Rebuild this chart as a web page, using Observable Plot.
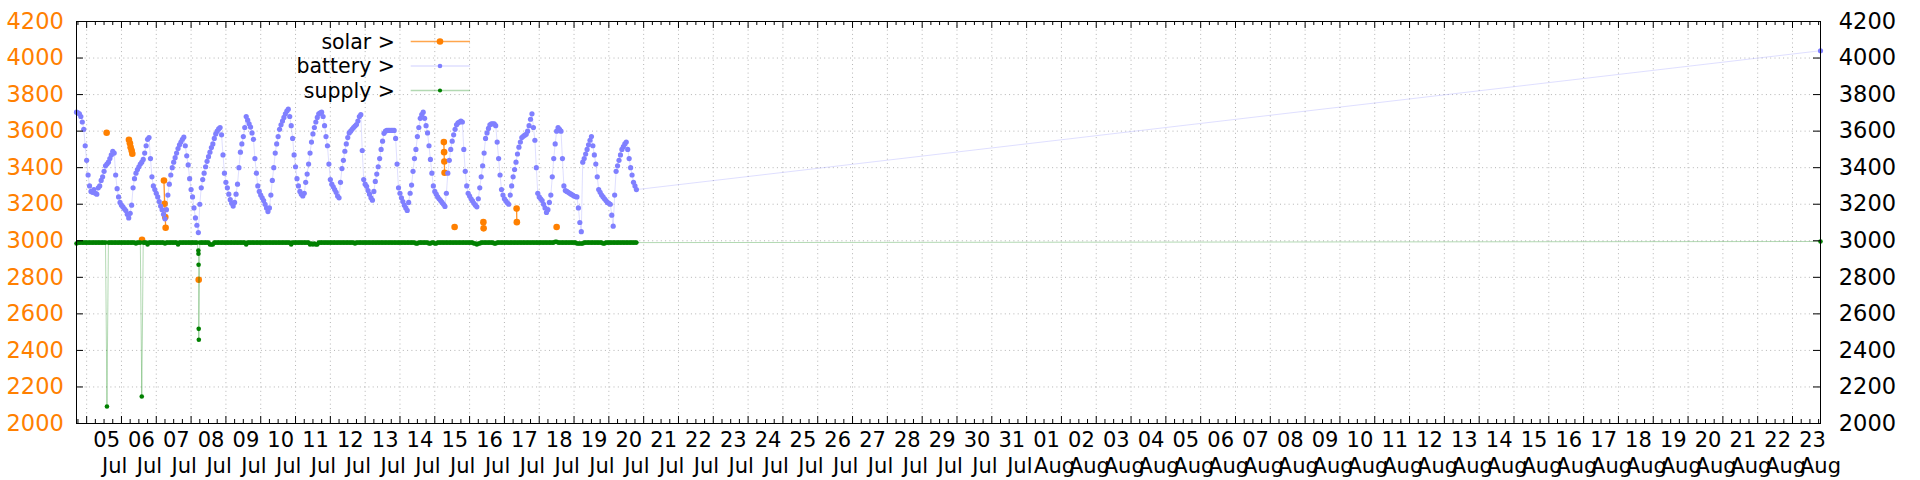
<!DOCTYPE html>
<html><head><meta charset="utf-8">
<script src="https://cdn.jsdelivr.net/npm/d3@7"></script>
<script src="https://cdn.jsdelivr.net/npm/@observablehq/plot@0.6"></script>
<style>body{margin:0;background:#fff;} #chart svg{display:block}</style>
</head><body><div id="chart"></div>
<script>
// ---- data (hourly log from Jul 4 17:00) ----
const startTime = "07-04 17:00";
const batteryHourly = [
/* Jul 4 17-23 */ 3704,3700,3695,3680,3650,3610,3520,
/* Jul 5 */ 3440,3360,3300,3270,3265,3280,3260,3255,3290,3300,3330,3350,3380,3410,3420,3430,3450,3470,3490,3480,3360,3285,3240,3210,
/* Jul 6 */ 3195,3185,3175,3165,3145,3125,3150,3195,3290,3340,3370,3390,3405,3420,3430,3445,3480,3520,3555,3565,3450,3350,3300,3280,
/* Jul 7 */ 3260,3240,3215,3190,3170,3145,3120,3170,3250,3310,3360,3400,3430,3455,3480,3505,3525,3540,3555,3567,3520,3465,3415,3340,
/* Jul 8 */ 3280,3240,3180,3125,3085,3045,3200,3290,3335,3370,3405,3435,3460,3485,3510,3530,3560,3585,3600,3612,3620,3580,3470,3370,
/* Jul 9 */ 3320,3290,3255,3225,3205,3190,3210,3255,3310,3400,3485,3530,3570,3620,3680,3660,3640,3622,3590,3555,3450,3370,3300,3270,
/* Jul 10 */ 3250,3235,3220,3200,3180,3160,3180,3250,3330,3400,3480,3530,3570,3610,3635,3655,3675,3695,3710,3720,3680,3630,3560,3470,
/* Jul 11 */ 3405,3340,3300,3270,3255,3245,3260,3320,3365,3420,3480,3540,3585,3620,3650,3675,3695,3700,3704,3680,3630,3570,3520,3420,
/* Jul 12 */ 3335,3310,3295,3280,3265,3245,3235,3320,3395,3440,3490,3530,3565,3590,3600,3610,3620,3628,3636,3655,3680,3690,3494,3335,
/* Jul 13 */ 3310,3298,3275,3255,3235,3222,3270,3325,3365,3405,3450,3500,3545,3588,3600,3604,3604,3604,3604,3604,3604,3560,3420,3290,
/* Jul 14 */ 3260,3235,3215,3195,3180,3166,3210,3260,3305,3380,3450,3500,3570,3620,3670,3690,3704,3670,3630,3590,3520,3445,3370,3300,
/* Jul 15 */ 3270,3255,3240,3230,3220,3210,3200,3188,3260,3370,3440,3500,3545,3580,3610,3635,3645,3650,3655,3650,3500,3380,3300,3260,
/* Jul 16 */ 3245,3230,3218,3205,3195,3186,3230,3290,3350,3410,3480,3560,3590,3615,3635,3640,3640,3640,3630,3540,3450,3360,3280,3250,
/* Jul 17 */ 3230,3218,3208,3200,3250,3300,3350,3390,3430,3475,3512,3540,3565,3572,3578,3583,3600,3630,3665,3695,3620,3550,3400,3260,
/* Jul 18 */ 3240,3230,3220,3200,3180,3155,3170,3210,3250,3350,3450,3530,3600,3620,3610,3600,3450,3300,3275,3270,3265,3260,3255,3250,
/* Jul 19 */ 3245,3242,3240,3180,3100,3050,3430,3450,3475,3500,3525,3550,3570,3520,3470,3420,3350,3280,3265,3250,3240,3230,3220,3210,
/* Jul 20 0-19 */ 3205,3200,3140,3080,3250,3380,3410,3440,3470,3500,3515,3530,3540,3500,3450,3400,3360,3320,3300,3280
];
const supplyHourly = [
/* Jul 4 */ 2985,2990,2990,2990,2990,2990,2990,
/* Jul 5 */ 2990,2990,2990,2990,2990,2990,2990,2990,2990,2990,2990,2990,2990,2990,2093,2990,2990,2990,2990,2990,2990,2990,2990,2990,
/* Jul 6 */ 2990,2990,2990,2990,2990,2990,2990,2990,2990,2990,2985,2990,2990,2990,2148,2990,2990,2990,2980,2990,2990,2990,2990,2990,
/* Jul 7 */ 2990,2990,2990,2990,2990,2990,2985,2990,2990,2990,2990,2990,2990,2990,2990,2980,2990,2990,2990,2990,2990,2990,2990,2990,
/* Jul 8 */ 2990,2990,2990,2990,2990,2947,2990,2990,2990,2990,2990,2990,2990,2980,2980,2980,2990,2990,2990,2990,2990,2990,2990,2990,
/* Jul 9 */ 2990,2990,2990,2990,2990,2990,2990,2990,2990,2990,2990,2990,2990,2990,2980,2990,2990,2990,2990,2990,2990,2990,2990,2990,
/* Jul 10 */ 2990,2990,2990,2990,2990,2990,2990,2990,2990,2990,2990,2990,2990,2990,2990,2990,2990,2990,2990,2990,2990,2980,2990,2990,
/* Jul 11 */ 2990,2990,2990,2990,2990,2990,2990,2990,2990,2990,2980,2985,2980,2985,2980,2980,2990,2990,2990,2990,2990,2990,2990,2990,
/* Jul 12 */ 2990,2990,2990,2990,2990,2990,2990,2990,2990,2990,2990,2990,2990,2990,2990,2990,2990,2985,2990,2990,2990,2990,2990,2990,
/* Jul 13 */ 2990,2990,2990,2990,2990,2990,2990,2990,2990,2990,2990,2990,2990,2990,2990,2990,2990,2990,2990,2990,2990,2990,2990,2990,
/* Jul 14 */ 2990,2990,2990,2990,2990,2990,2990,2990,2990,2990,2990,2985,2985,2990,2990,2990,2990,2990,2990,2990,2985,2985,2990,2990,
/* Jul 15 */ 2985,2985,2990,2990,2990,2990,2990,2990,2990,2990,2990,2990,2990,2990,2990,2990,2990,2990,2990,2990,2990,2990,2990,2990,
/* Jul 16 */ 2990,2990,2990,2985,2985,2980,2985,2985,2990,2990,2990,2990,2990,2990,2990,2990,2990,2985,2985,2990,2990,2990,2990,2990,
/* Jul 17 */ 2990,2990,2990,2990,2990,2990,2990,2990,2990,2990,2990,2990,2990,2990,2990,2990,2990,2990,2990,2990,2990,2990,2990,2990,
/* Jul 18 */ 2990,2990,2990,2990,2990,2990,2990,2990,2990,2990,2990,2995,2995,2990,2990,2990,2990,2990,2990,2990,2990,2990,2990,2990,
/* Jul 19 */ 2990,2990,2985,2985,2985,2985,2985,2990,2990,2990,2990,2990,2990,2990,2990,2990,2990,2990,2990,2990,2985,2985,2990,2990,
/* Jul 20 */ 2990,2990,2990,2990,2990,2990,2990,2990,2990,2990,2990,2990,2990,2990,2990,2990,2990,2990,2990,2990
];
const supplyExtraTimes  = ["07-08 05:05","07-08 05:10","07-08 05:15","07-08 05:20"];
const supplyExtraValues = [2929, 2869, 2518, 2458];
const lastTime = "08-23 19:18";
const lastBattery = 4040, lastSupply = 2996;

const solarTimes = [
"07-05 13:47",
"07-06 05:09","07-06 05:50","07-06 06:19","07-06 07:00","07-06 07:29",
"07-06 14:10",
"07-07 05:17","07-07 05:46","07-07 06:13","07-07 06:27",
"07-08 05:15",
"07-15 06:15","07-15 06:25","07-15 06:35","07-15 06:45",
"07-15 13:40",
"07-16 09:30","07-16 09:40",
"07-17 08:24","07-17 08:34",
"07-18 12:00"
];
const solarValues = [3591, 3553,3534,3512,3494,3476, 3006, 3330,3203,3130,3071, 2787, 3540,3485,3434,3372, 3075, 3102,3068, 3176,3102, 3075];
const solarRun    = [1, 2,2,2,2,2, 3, 4,4,4,4, 5, 6,6,6,6, 7, 8,8, 9,9, 10];
const yTicks = [2000,2200,2400,2600,2800,3000,3200,3400,3600,3800,4000,4200];
const seriesNames = ["solar >","battery >","supply >"];
const seriesColors = ["#ff8000","#8080ff","#008000"];

// ---- build ----
const parse = d3.utcParse("%Y-%m-%d %H:%M");
const T = s => parse("2023-" + s);
const t0 = T(startTime);
const batteryRows = batteryHourly.map((v, i) => ({t: d3.utcHour.offset(t0, i), v}));
batteryRows.push({t: T(lastTime), v: lastBattery});
const supplyRows = supplyHourly.map((v, i) => ({t: d3.utcHour.offset(t0, i), v}))
  .concat(supplyExtraTimes.map((s, i) => ({t: T(s), v: supplyExtraValues[i]})))
  .sort((a, b) => a.t - b.t);
supplyRows.push({t: T(lastTime), v: lastSupply});
const solarRows = solarTimes.map((t, i) => ({t: T(t), v: solarValues[i], g: solarRun[i]}));
const xDomain = [t0, T(lastTime)];

const W = 1920, H = 480, mL = 76, mR = 100, mT = 21, mB = 57;
const plotW = W - mL - mR, plotH = H - mT - mB;
const days = d3.utcDay.range(d3.utcDay.ceil(xDomain[0]), xDomain[1]);
const quarters = d3.utcHour.every(6).range(xDomain[0], xDomain[1]).filter(d => d.getUTCHours() !== 0);
const fmtDay = d3.utcFormat("%d"), fmtMon = d3.utcFormat("%b");
const gridStyle = {stroke: "#b4b4b4", strokeDasharray: "1,3.3", strokeWidth: 1};

const chart = Plot.plot({
  width: W, height: H,
  marginLeft: mL, marginRight: mR, marginTop: mT, marginBottom: mB,
  x: {type: "utc", domain: xDomain, axis: null},
  y: {domain: [yTicks[0], yTicks[yTicks.length - 1]], axis: null},
  style: {fontFamily: "DejaVu Sans", background: "#fff"},
  marks: [
    Plot.ruleX(days, {x: d => d, ...gridStyle}),
    Plot.ruleY(yTicks.slice(1, -1), {y: d => d, ...gridStyle}),
    // solar
    Plot.line(solarRows, {x: "t", y: "v", z: "g", stroke: seriesColors[0], strokeOpacity: 0.85, strokeWidth: 1.3}),
    Plot.dot(solarRows, {x: "t", y: "v", r: 3.3, fill: seriesColors[0]}),
    // battery
    Plot.line(batteryRows, {x: "t", y: "v", stroke: seriesColors[1], strokeOpacity: 0.25, strokeWidth: 1}),
    Plot.dot(batteryRows, {x: "t", y: "v", r: 2.6, fill: seriesColors[1]}),
    // supply
    Plot.line(supplyRows, {x: "t", y: "v", stroke: seriesColors[2], strokeOpacity: 0.3, strokeWidth: 1}),
    Plot.dot(supplyRows, {x: "t", y: "v", r: 2.3, fill: seriesColors[2]}),
    Plot.frame({stroke: "#000"}),
    // inward ticks
    Plot.tickX(days, {x: d => d, stroke: "#000", insetTop: plotH - 7}),
    Plot.tickX(days, {x: d => d, stroke: "#000", insetBottom: plotH - 7}),
    Plot.tickX(quarters, {x: d => d, stroke: "#000", insetTop: plotH - 4}),
    Plot.tickX(quarters, {x: d => d, stroke: "#000", insetBottom: plotH - 4}),
    Plot.tickY(yTicks, {y: d => d, stroke: "#000", insetRight: plotW - 7}),
    Plot.tickY(yTicks, {y: d => d, stroke: "#000", insetLeft: plotW - 7}),
    // tick labels
    Plot.text(days, {x: d => d, text: d => fmtDay(d), frameAnchor: "bottom", dx: 20, dy: 23, fontSize: 21, fill: "#000"}),
    Plot.text(days, {x: d => d, text: d => fmtMon(d), frameAnchor: "bottom", dx: 28, dy: 49, fontSize: 21, fill: "#000"}),
    Plot.text(yTicks, {y: d => d, text: d => String(d), frameAnchor: "left", textAnchor: "end", dx: -12.7, fontSize: 22.5, fill: seriesColors[0]}),
    Plot.text(yTicks, {y: d => d, text: d => String(d), frameAnchor: "right", textAnchor: "start", dx: 18.3, fontSize: 22.5, fill: "#000"})
  ]
});
document.getElementById("chart").appendChild(chart);

// ---- legend (top-left, inside the frame) ----
const svg = d3.select(chart);
const lg = svg.append("g").attr("font-family", "DejaVu Sans").attr("font-size", 20.5);
const legendRows = [
  {name: seriesNames[0], color: seriesColors[0], lineOpacity: 0.7, r: 3.3, y: 41.5},
  {name: seriesNames[1], color: seriesColors[1], lineOpacity: 0.25, r: 2.3, y: 66},
  {name: seriesNames[2], color: seriesColors[2], lineOpacity: 0.3, r: 2.1, y: 90.5}
];
for (const L of legendRows) {
  lg.append("text").attr("x", 395).attr("y", L.y).attr("text-anchor", "end")
    .attr("dominant-baseline", "central").attr("fill", "#000").text(L.name);
  lg.append("line").attr("x1", 410.7).attr("x2", 470).attr("y1", L.y).attr("y2", L.y)
    .attr("stroke", L.color).attr("stroke-opacity", L.lineOpacity).attr("stroke-width", 1.3);
  lg.append("circle").attr("cx", 440).attr("cy", L.y).attr("r", L.r).attr("fill", L.color);
}
</script>
</body></html>
